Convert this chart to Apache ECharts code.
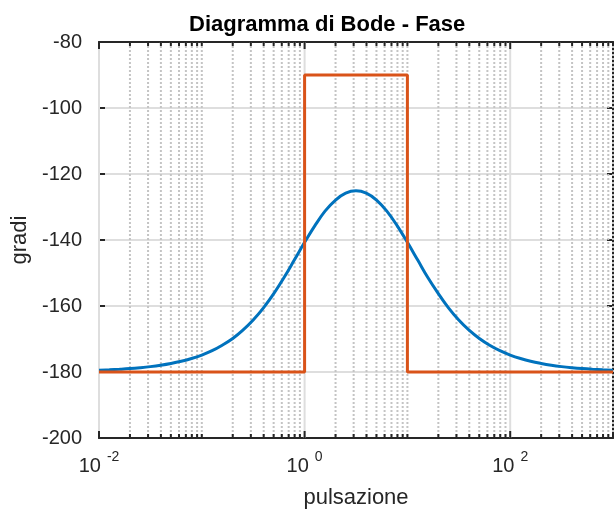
<!DOCTYPE html>
<html>
<head>
<meta charset="utf-8">
<script src="https://cdn.jsdelivr.net/npm/echarts@6/dist/echarts.min.js"></script>
<style>
  html, body { margin: 0; padding: 0; background: #fff; }
  #bode_fase { width: 616px; height: 510px; }
</style>
</head>
<body>
<div id="bode_fase"></div>
<script>
// pulsazione (rad/s) e fase (gradi)
var pulsazione = [0.01, 0.0126, 0.0158, 0.02, 0.0251, 0.0316, 0.0398, 0.0501, 0.0631, 0.0794,
    0.1, 0.126, 0.158, 0.2, 0.251, 0.316, 0.398, 0.501, 0.631, 0.794,
    1, 1.26, 1.58, 2, 2.51, 3.16, 3.98, 5.01, 6.31, 7.94,
    10, 12.6, 15.8, 20, 25.1, 31.6, 39.8, 50.1, 63.1, 79.4,
    100, 126, 158, 200, 251, 316, 398, 501, 631, 794, 1000];
var fase = [-179.48, -179.35, -179.18, -178.97, -178.70, -178.37, -177.95, -177.42, -176.75, -175.91,
    -174.86, -173.55, -171.90, -169.86, -167.34, -164.26, -160.57, -156.25, -151.36, -146.08,
    -140.71, -135.64, -131.26, -127.90, -125.81, -125.10, -125.81, -127.90, -131.26, -135.64,
    -140.71, -146.08, -151.36, -156.25, -160.57, -164.26, -167.34, -169.86, -171.90, -173.55,
    -174.86, -175.91, -176.75, -177.42, -177.95, -178.37, -178.70, -178.97, -179.18, -179.35, -179.48];

// approssimazione asintotica
var asintotoX = [0.01, 1, 1, 10, 10, 1000];
var asintotoY = [-180, -180, -90, -90, -180, -180];

// tacche asse x
var tacchePrincipali = [0.01, 1, 100];
var decadi = [0.01, 0.1, 1, 10, 100];
var multipli = [2, 3, 4, 5, 6, 7, 8, 9, 10];

var tacche = [];
decadi.forEach(function (d) {
    multipli.forEach(function (m) {
        var v = +(d * m).toPrecision(3);
        if (tacchePrincipali.indexOf(v) < 0) tacche.push(v);
    });
});

var scuro = '#262626';
var font = 'Liberation Sans, Arial, Helvetica, sans-serif';

function pairs(xs, ys) {
    return xs.map(function (x, i) { return [x, ys[i]]; });
}

function grigliaX(dash, color, width, tick) {
    return function (params, api) {
        var x = api.coord([api.value(0), -200])[0];
        var top = params.coordSys.y;
        var bottom = top + params.coordSys.height;
        return {
            type: 'group',
            children: [
                {type: 'line', shape: {x1: x, y1: top, x2: x, y2: bottom},
                    style: {stroke: color, lineWidth: width, lineDash: dash}},
                {type: 'line', shape: {x1: x, y1: bottom, x2: x, y2: bottom - tick},
                    style: {stroke: scuro, lineWidth: 2}},
                {type: 'line', shape: {x1: x, y1: top, x2: x, y2: top + tick},
                    style: {stroke: scuro, lineWidth: 2}}
            ]
        };
    };
}

var myChart = echarts.init(document.getElementById('bode_fase'));
myChart.setOption({
    animation: false,
    backgroundColor: '#fff',
    textStyle: {fontFamily: font},
    title: {
        text: 'Diagramma di Bode - Fase',
        left: 189,
        top: 14,
        padding: 0,
        textStyle: {fontSize: 22, fontWeight: 'bold', color: '#000', fontFamily: font}
    },
    grid: {left: 99, right: 3, top: 42, bottom: 72, containLabel: false, outerBoundsMode: 'none'},
    xAxis: [{
        type: 'log',
        logBase: 10,
        min: 0.01,
        max: 1000,
        position: 'bottom',
        name: 'pulsazione',
        nameLocation: 'middle',
        nameGap: 49,
        nameTextStyle: {fontSize: 22, color: scuro, fontFamily: font},
        axisLine: {show: true, onZero: false, lineStyle: {color: scuro, width: 2}},
        axisTick: {show: false},
        splitLine: {show: false},
        axisLabel: {
            margin: 12,
            color: scuro,
            formatter: function (v) {
                var e = Math.round(Math.log(v) / Math.LN10);
                if (e % 2 !== 0) return '';
                return '{b|10}{s|' + e + '}';
            },
            rich: {
                b: {fontSize: 20, lineHeight: 32, color: scuro, fontFamily: font},
                s: {fontSize: 14, lineHeight: 14, verticalAlign: 'top', padding: [0, 0, 0, 6], color: scuro, fontFamily: font}
            }
        }
    }, {
        type: 'log',
        logBase: 10,
        min: 0.01,
        max: 1000,
        position: 'top',
        axisLine: {show: true, onZero: false, lineStyle: {color: scuro, width: 2}},
        axisTick: {show: false},
        axisLabel: {show: false},
        splitLine: {show: false}
    }],
    yAxis: [{
        type: 'value',
        min: -200,
        max: -80,
        interval: 20,
        name: 'gradi',
        nameLocation: 'middle',
        nameGap: 66,
        nameTextStyle: {fontSize: 22, color: scuro, fontFamily: font},
        axisLine: {show: true, onZero: false, lineStyle: {color: scuro, width: 2}},
        axisTick: {show: true, inside: true, length: 6, lineStyle: {color: scuro, width: 2}},
        axisLabel: {fontSize: 20, color: scuro, margin: 17},
        splitLine: {show: true, lineStyle: {color: '#dedede', width: 2}}
    }, {
        type: 'value',
        min: -200,
        max: -80,
        interval: 20,
        position: 'right',
        axisLine: {show: true, onZero: false, lineStyle: {color: scuro, width: 2}},
        axisTick: {show: true, inside: true, length: 6, lineStyle: {color: scuro, width: 2}},
        axisLabel: {show: false},
        splitLine: {show: false}
    }],
    series: [{
        type: 'custom',
        z: 1,
        silent: true,
        renderItem: grigliaX([2, 2], '#c4c4c4', 2, 4),
        data: tacche.map(function (v) { return [v, -200]; })
    }, {
        type: 'custom',
        z: 1,
        silent: true,
        renderItem: grigliaX(null, '#dedede', 2, 7),
        data: tacchePrincipali.map(function (v) { return [v, -200]; })
    }, {
        name: 'fase',
        type: 'line',
        z: 3,
        showSymbol: false,
        symbol: 'none',
        smooth: 0.4,
        data: pairs(pulsazione, fase),
        lineStyle: {color: '#0072BD', width: 3}
    }, {
        name: 'asintoto',
        type: 'line',
        z: 4,
        showSymbol: false,
        symbol: 'none',
        data: pairs(asintotoX, asintotoY),
        lineStyle: {color: '#D95319', width: 3}
    }]
});
</script>
</body>
</html>
